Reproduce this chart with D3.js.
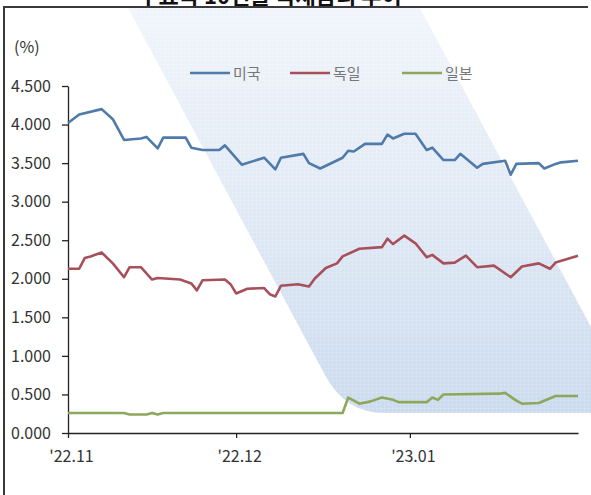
<!DOCTYPE html>
<html>
<head>
<meta charset="utf-8">
<script src="https://cdn.jsdelivr.net/npm/d3@7/dist/d3.min.js"></script>
<style>
  html, body { margin: 0; padding: 0; background: #fff; }
  svg { display: block; }
  text { font-family: "Noto Sans CJK KR", "Noto Sans", sans-serif; }
</style>
</head>
<body>
<svg id="chart" width="591" height="495"></svg>
<script>
// 10-year government bond yields (%), dated observations
const usSeries = [
  ["2022-11-01", 4.02], ["2022-11-03", 4.13], ["2022-11-07", 4.20], ["2022-11-09", 4.07],
  ["2022-11-11", 3.80], ["2022-11-14", 3.82], ["2022-11-15", 3.84], ["2022-11-17", 3.69],
  ["2022-11-18", 3.83], ["2022-11-22", 3.83], ["2022-11-23", 3.70], ["2022-11-25", 3.67],
  ["2022-11-28", 3.67], ["2022-11-29", 3.73], ["2022-12-02", 3.48], ["2022-12-06", 3.57],
  ["2022-12-08", 3.42], ["2022-12-09", 3.57], ["2022-12-13", 3.62], ["2022-12-14", 3.50],
  ["2022-12-16", 3.43], ["2022-12-20", 3.57], ["2022-12-21", 3.66], ["2022-12-22", 3.65],
  ["2022-12-24", 3.75], ["2022-12-27", 3.75], ["2022-12-28", 3.87], ["2022-12-29", 3.82],
  ["2022-12-31", 3.88], ["2023-01-02", 3.88], ["2023-01-04", 3.67], ["2023-01-05", 3.70],
  ["2023-01-07", 3.54], ["2023-01-09", 3.54], ["2023-01-10", 3.62], ["2023-01-13", 3.44],
  ["2023-01-14", 3.49], ["2023-01-18", 3.53], ["2023-01-19", 3.35], ["2023-01-20", 3.49],
  ["2023-01-24", 3.50], ["2023-01-25", 3.43], ["2023-01-27", 3.49], ["2023-01-28", 3.51],
  ["2023-01-31", 3.53]
];
const deSeries = [
  ["2022-11-01", 2.13], ["2022-11-03", 2.13], ["2022-11-04", 2.27], ["2022-11-05", 2.29],
  ["2022-11-07", 2.34], ["2022-11-09", 2.20], ["2022-11-11", 2.02], ["2022-11-12", 2.15],
  ["2022-11-14", 2.15], ["2022-11-16", 1.99], ["2022-11-17", 2.01], ["2022-11-21", 1.99],
  ["2022-11-23", 1.94], ["2022-11-24", 1.85], ["2022-11-25", 1.98], ["2022-11-29", 1.99],
  ["2022-11-30", 1.93], ["2022-12-01", 1.81], ["2022-12-03", 1.87], ["2022-12-06", 1.88],
  ["2022-12-07", 1.80], ["2022-12-08", 1.77], ["2022-12-09", 1.91], ["2022-12-12", 1.93],
  ["2022-12-14", 1.90], ["2022-12-15", 2.00], ["2022-12-17", 2.14], ["2022-12-19", 2.20],
  ["2022-12-20", 2.29], ["2022-12-23", 2.39], ["2022-12-27", 2.41], ["2022-12-28", 2.52],
  ["2022-12-29", 2.45], ["2022-12-31", 2.56], ["2023-01-02", 2.46], ["2023-01-04", 2.28],
  ["2023-01-05", 2.31], ["2023-01-07", 2.20], ["2023-01-09", 2.21], ["2023-01-11", 2.30],
  ["2023-01-13", 2.15], ["2023-01-16", 2.17], ["2023-01-19", 2.02], ["2023-01-21", 2.16],
  ["2023-01-24", 2.20], ["2023-01-26", 2.13], ["2023-01-27", 2.21], ["2023-01-31", 2.30]
];
const jpSeries = [
  ["2022-11-01", 0.26], ["2022-11-11", 0.26], ["2022-11-12", 0.24], ["2022-11-15", 0.24],
  ["2022-11-16", 0.26], ["2022-11-17", 0.24], ["2022-11-18", 0.26], ["2022-12-20", 0.26],
  ["2022-12-21", 0.46], ["2022-12-23", 0.38], ["2022-12-25", 0.41], ["2022-12-27", 0.46],
  ["2022-12-29", 0.43], ["2022-12-30", 0.40], ["2023-01-04", 0.40], ["2023-01-05", 0.46],
  ["2023-01-06", 0.43], ["2023-01-07", 0.50], ["2023-01-17", 0.51], ["2023-01-18", 0.52],
  ["2023-01-20", 0.42], ["2023-01-21", 0.38], ["2023-01-24", 0.39], ["2023-01-27", 0.48],
  ["2023-01-31", 0.48]
];
const seriesNames = ["미국", "독일", "일본"];
const seriesColors = ["#4f7aa9", "#a8505a", "#8da75c"];
const yTicks = [0, 0.5, 1, 1.5, 2, 2.5, 3, 3.5, 4, 4.5];
const xTickDates = ["2022-11-01", "2022-12-01", "2023-01-01"];
const xTickLabels = ["'22.11", "'22.12", "'23.01"];
const titleText = "주요국 10년물 국채금리 추이";
const unitLabel = "(%)";

const parse = d3.timeParse("%Y-%m-%d");
const svg = d3.select("#chart");

const x = d3.scaleTime()
  .domain([parse("2022-11-01"), parse("2023-01-31")])
  .range([68, 578]);
const y = d3.scaleLinear().domain([0, 4.5]).range([433, 86]);

// background: diagonal light-blue band with a faint grid texture
const defs = svg.append("defs");
const grad = defs.append("linearGradient").attr("id", "bandGrad")
  .attr("x1", 0).attr("y1", 0).attr("x2", 0).attr("y2", 1);
grad.append("stop").attr("offset", "0%").attr("stop-color", "#f1f5fb");
grad.append("stop").attr("offset", "50%").attr("stop-color", "#e0e9f5");
grad.append("stop").attr("offset", "100%").attr("stop-color", "#cbdaee");
const pat = defs.append("pattern").attr("id", "gridTex")
  .attr("width", 4).attr("height", 4).attr("patternUnits", "userSpaceOnUse");
pat.append("path").attr("d", "M0 0.5 H4 M0.5 0 V4")
  .attr("stroke", "#ffffff").attr("stroke-opacity", 0.14).attr("stroke-width", 1);

const bandPath = "M128 8 L420 8 L591 327 L591 413 L385 413 Q345 413 325 375 Z";
svg.append("path").attr("d", bandPath).attr("fill", "url(#bandGrad)");
svg.append("path").attr("d", bandPath).attr("fill", "url(#gridTex)");

// title (runs off the top edge) and frame
svg.append("text").attr("x", 270).attr("y", 4)
  .attr("text-anchor", "middle").attr("font-size", 22).attr("font-weight", "bold")
  .attr("fill", "#111").text(titleText);
svg.append("path").attr("d", "M4 495 V7 H588")
  .attr("fill", "none").attr("stroke", "#3a3a3a").attr("stroke-width", 2);

svg.append("text").attr("x", 14).attr("y", 53)
  .attr("font-size", 16).attr("fill", "#333").text(unitLabel);

// axes
const yAxis = d3.axisLeft(y).tickValues(yTicks).tickFormat(d3.format(".3f"))
  .tickSize(6).tickSizeOuter(0).tickPadding(11);
const gy = svg.append("g").attr("transform", "translate(68,0)").call(yAxis);
gy.select(".domain").attr("stroke", "#222").attr("stroke-width", 1.3);
gy.selectAll(".tick line").attr("stroke", "#222").attr("stroke-width", 1.3);
gy.selectAll(".tick text").attr("font-size", 16).attr("fill", "#333")
  .style("font-family", "'Noto Sans CJK KR', sans-serif");

const xAxis = d3.axisBottom(x).tickValues(xTickDates.map(parse))
  .tickFormat((d, i) => xTickLabels[i]).tickSize(5).tickSizeOuter(0).tickPadding(13);
const gx = svg.append("g").attr("transform", "translate(0,433)").call(xAxis);
gx.select(".domain").attr("stroke", "#222").attr("stroke-width", 1.5);
gx.selectAll(".tick line").attr("stroke", "#222").attr("stroke-width", 1.3);
gx.selectAll(".tick text").attr("font-size", 16).attr("fill", "#333")
  .attr("dx", 3)
  .style("font-family", "'Noto Sans CJK KR', sans-serif");

// series lines
const line = d3.line().x(d => x(parse(d[0]))).y(d => y(d[1]));
[usSeries, deSeries, jpSeries].forEach((s, i) => {
  svg.append("path").datum(s).attr("d", line)
    .attr("fill", "none").attr("stroke", seriesColors[i])
    .attr("stroke-width", 2.6).attr("stroke-linejoin", "round");
});

// legend
const legendX = [190, 290, 402];
seriesNames.forEach((name, i) => {
  const g = svg.append("g").attr("transform", `translate(${legendX[i]},73)`);
  g.append("line").attr("x1", 0).attr("x2", 40).attr("y1", 0).attr("y2", 0)
    .attr("stroke", seriesColors[i]).attr("stroke-width", 2.6);
  g.append("text").attr("x", 43).attr("y", 5.5).attr("font-size", 15)
    .attr("fill", "#777").text(name);
});
</script>
</body>
</html>
